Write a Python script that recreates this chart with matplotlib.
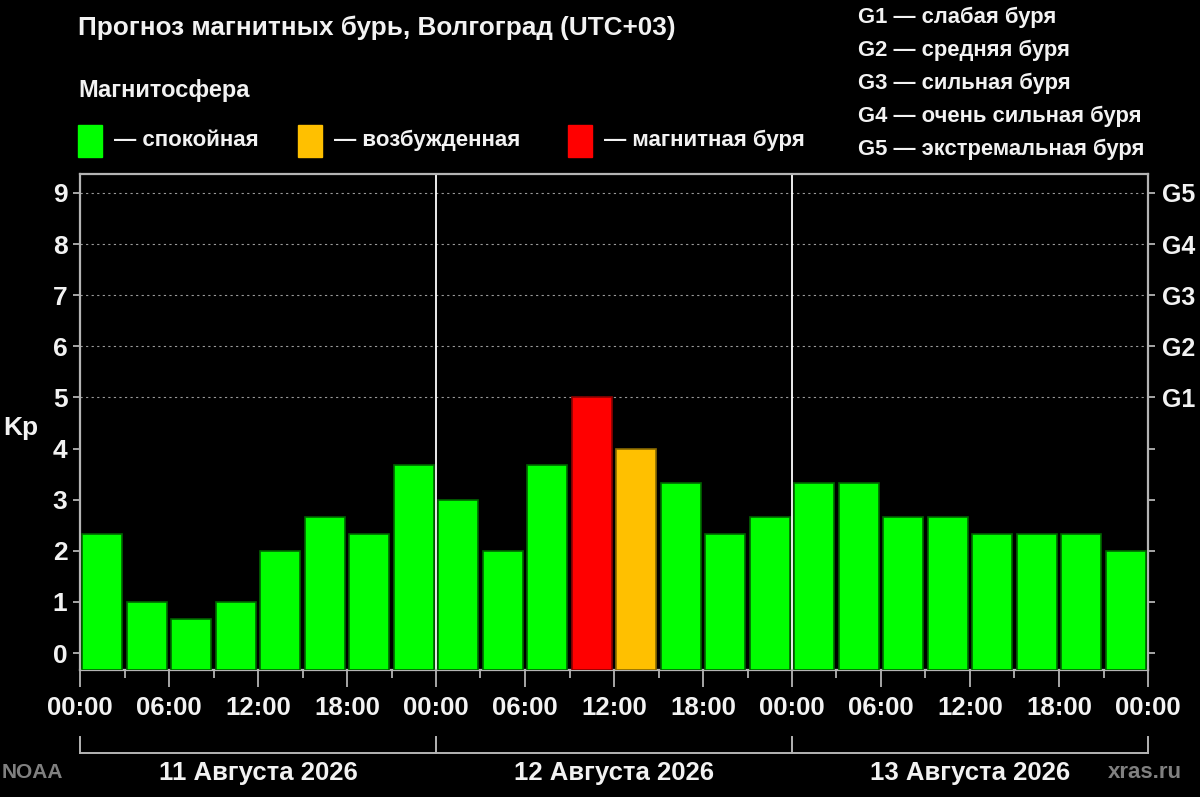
import matplotlib
matplotlib.use("Agg")
import matplotlib.pyplot as plt
from matplotlib.ticker import MultipleLocator
from matplotlib.lines import Line2D

plt.rcParams['font.family'] = ['Liberation Sans', 'DejaVu Sans']
plt.rcParams['font.weight'] = 'bold'

# ---- data ----
kp_values = [2.33, 1.0, 0.67, 1.0, 2.0, 2.67, 2.33, 3.67,
             3.0, 2.0, 3.67, 5.0, 4.0, 3.33, 2.33, 2.67,
             3.33, 3.33, 2.67, 2.67, 2.33, 2.33, 2.33, 2.0]
hour_step = 3
time_labels = ["00:00", "06:00", "12:00", "18:00", "00:00", "06:00", "12:00",
               "18:00", "00:00", "06:00", "12:00", "18:00", "00:00"]
day_labels = ["11 Августа 2026", "12 Августа 2026", "13 Августа 2026"]
g_levels = [5, 6, 7, 8, 9]
g_labels = ["G1", "G2", "G3", "G4", "G5"]
g_desc = ["G1 — слабая буря", "G2 — средняя буря", "G3 — сильная буря",
          "G4 — очень сильная буря", "G5 — экстремальная буря"]
legend_items = [("— спокойная", "#00ff00"), ("— возбужденная", "#ffc000"),
                ("— магнитная буря", "#ff0000")]
title = "Прогноз магнитных бурь, Волгоград (UTC+03)"

GREEN, ORANGE, RED = "#00ff00", "#ffc000", "#ff0000"
FG = "#f2f2f2"
FRAME = "#b4b4b4"

W, H = 1200, 797
fig = plt.figure(figsize=(12, 7.97), dpi=100, facecolor="black")

def px(x, y):
    return x / W, 1 - y / H

ax = fig.add_axes([80 / W, 1 - 670 / H, (1148 - 80) / W, (670 - 174) / H])
ax.set_facecolor("black")
ymin, ymax = -0.33, 9.37
ax.set_ylim(ymin, ymax)
n = len(kp_values)
ax.set_xlim(0, n * hour_step)

xs = [hour_step * i + hour_step / 2 for i in range(n)]
colors = [RED if v >= 5 else (ORANGE if v >= 4 else GREEN) for v in kp_values]
edges = ["#8b0000" if c == RED else ("#8a6a00" if c == ORANGE else "#006400") for c in colors]
ax.bar(xs, [v - ymin for v in kp_values], bottom=ymin, width=hour_step * 0.9,
       color=colors, edgecolor=edges, linewidth=1.2, zorder=3)

for lv in g_levels:
    ax.axhline(lv, color="#9a9a9a", linestyle=(0, (2, 3)), linewidth=0.8, zorder=1)

for d in (24, 48):
    ax.axvline(d, color="white", linewidth=1.3, zorder=2)

for s in ax.spines.values():
    s.set_color(FRAME)
    s.set_linewidth(1.6)

ax.xaxis.set_minor_locator(MultipleLocator(3))
ax.set_xticks(list(range(0, 73, 6)))
ax.set_xticklabels(time_labels)
ax.tick_params(axis="x", which="major", length=12, width=1.3, color=FRAME,
               labelcolor=FG, labelsize=18.5, pad=7)
ax.tick_params(axis="x", which="minor", length=6, width=1.3, color=FRAME)
ax.set_yticks(range(0, 10))
ax.tick_params(axis="y", which="major", length=5, width=1.3, color=FRAME,
               labelcolor=FG, labelsize=19, pad=4)

ax2 = ax.twinx()
ax2.set_ylim(ymin, ymax)
ax2.set_yticks(range(0, 10))
ax2.set_yticklabels(["" if i not in g_levels else g_labels[g_levels.index(i)] for i in range(10)])
ax2.tick_params(axis="y", length=5, width=1.3, color=FRAME, labelcolor=FG,
                labelsize=18, pad=5)
for s in ax2.spines.values():
    s.set_visible(False)

fig.text(*px(21, 428), "Kp", color=FG, fontsize=19, ha="center", va="center")

# title and legends
fig.text(*px(78, 28), title, color=FG, fontsize=18.8, ha="left", va="center")
fig.text(*px(78, 91), "Магнитосфера", color=FG, fontsize=17, ha="left", va="center")
sq_x = [78, 298, 568]
for (lab, col), x0 in zip(legend_items, sq_x):
    fig.patches.append(plt.Rectangle(px(x0, 157), 24 / W, 32 / H, color=col,
                                     transform=fig.transFigure, figure=fig))
    fig.text(*px(x0 + 36, 140), lab, color=FG, fontsize=16, ha="left", va="center")

for i, t in enumerate(g_desc):
    fig.text(*px(858, 17 + 33 * i), t, color=FG, fontsize=15.8, ha="left", va="center")

# day bracket
yb = 753
fig.add_artist(Line2D([80 / W, 1148 / W], [1 - yb / H] * 2, color=FRAME, lw=1.4,
                      transform=fig.transFigure))
for xb in (80, 436, 792, 1148):
    fig.add_artist(Line2D([xb / W] * 2, [1 - yb / H, 1 - 737 / H], color=FRAME, lw=1.4,
                          transform=fig.transFigure))
for i, d in enumerate(day_labels):
    fig.text(*px(258 + 356 * i, 773), d, color=FG, fontsize=18.5, ha="center", va="center")

fig.text(*px(2, 773), "NOAA", color="#808080", fontsize=15, ha="left", va="center")
fig.text(*px(1108, 773), "xras.ru", color="#808080", fontsize=16, ha="left", va="center")

fig.savefig("out.png", dpi=100, facecolor="black")
